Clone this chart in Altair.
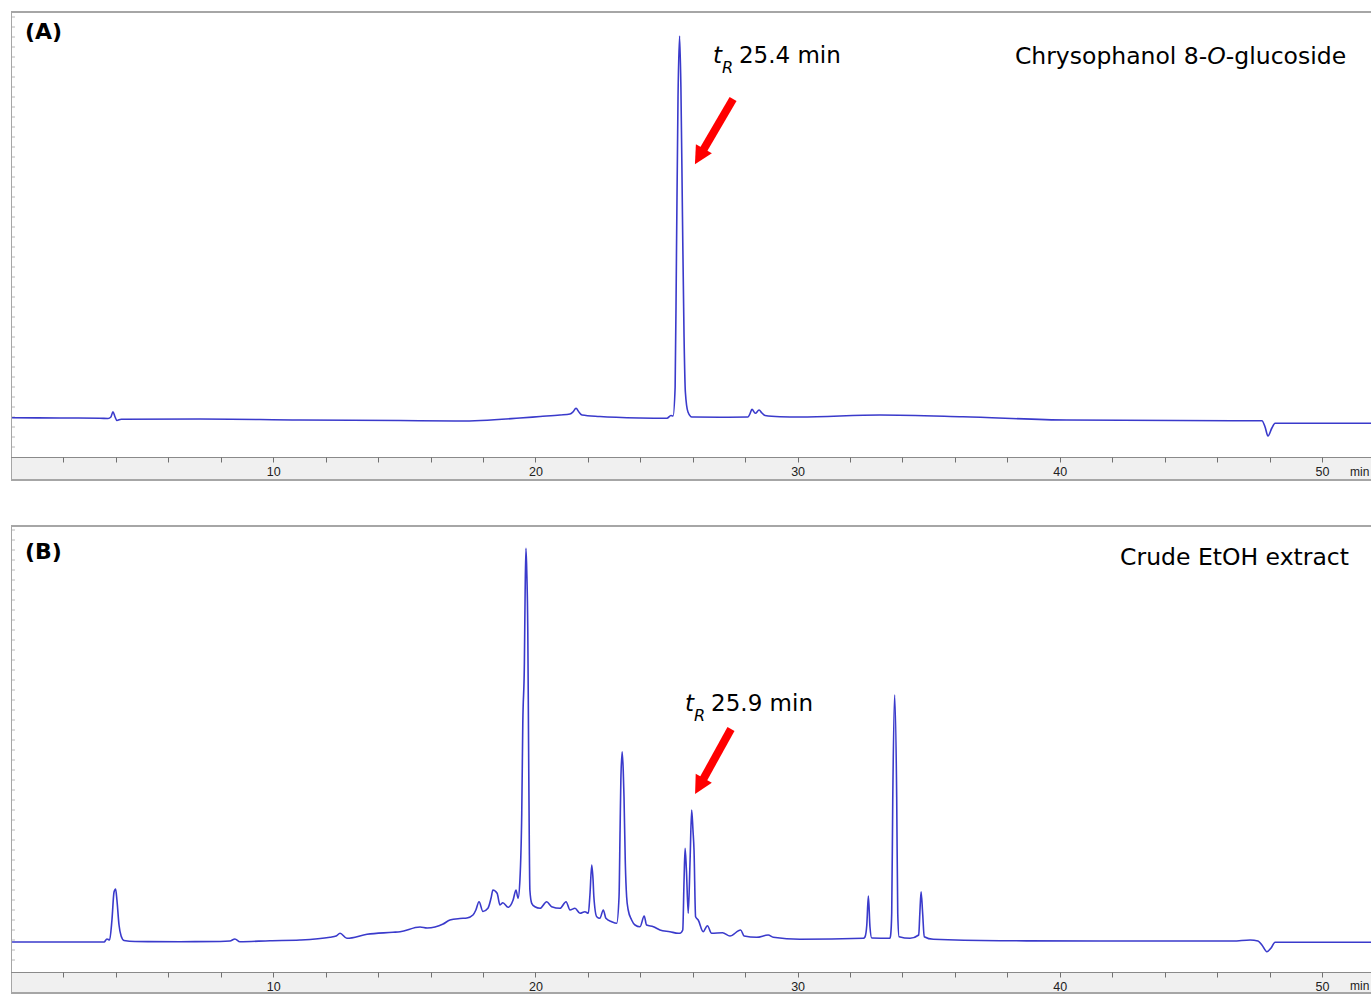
import altair as alt
import pandas as pd

# ---------------- data ----------------
# Panel A: Chrysophanol 8-O-glucoside standard (time in min, signal in arbitrary units)
time_a = [0.04, 1.87, 3.39, 3.70, 3.81, 3.89, 3.97, 4.04, 4.20, 7.21, 11.02, 14.84,
          17.12, 19.41, 20.18, 20.94, 21.32, 21.43, 21.55, 21.66, 21.78, 22.46, 23.99,
          25.02, 25.17, 25.25, 25.33, 25.38, 25.44, 25.50, 25.55, 25.61, 25.67, 25.72,
          25.82, 25.97, 27.04, 28.11, 28.18, 28.26, 28.39, 28.53, 28.64, 28.76, 29.33,
          30.09, 33.14, 36.31, 40.27, 46.61, 47.71, 47.83, 47.94, 48.09, 48.21, 49.16,
          51.87]
signal_a = [39.3, 39.0, 38.8, 38.5, 40.0, 45.3, 40.0, 36.5, 37.8, 38.0, 37.0, 36.5,
            36.0, 39.0, 40.5, 42.0, 43.0, 45.0, 48.7, 45.0, 42.0, 40.5, 39.0,
            38.7, 41.5, 41.0, 70.0, 200.0, 360.0, 421.0, 370.0, 240.0, 120.0, 65.0,
            45.0, 40.0, 39.8, 40.0, 43.0, 47.7, 43.7, 47.0, 44.0, 41.5, 40.3,
            40.0, 42.0, 40.3, 37.0, 36.3, 36.3, 30.0, 21.0, 29.0, 33.7, 33.8,
            33.7]

# Panel B: crude EtOH extract
time_b = [0.04, 1.87, 3.39, 3.55, 3.66, 3.76, 3.85, 3.93, 3.99, 4.04, 4.12, 4.20,
          4.31, 4.73, 6.45, 7.97, 8.35, 8.54, 8.73, 9.88, 11.02, 12.17, 12.40, 12.55,
          12.81, 13.58, 14.57, 14.84, 15.60, 15.87, 16.48, 16.74, 17.12, 17.39, 17.62,
          17.73, 17.85, 18.00, 18.19, 18.31, 18.38, 18.54, 18.65, 18.76, 18.96, 19.15,
          19.26, 19.34, 19.41, 19.48, 19.52, 19.58, 19.61, 19.64, 19.67, 19.71, 19.74,
          19.77, 19.79, 19.86, 19.98, 20.18, 20.43, 20.62, 20.94, 21.17, 21.32, 21.51,
          21.70, 21.89, 22.02, 22.08, 22.15, 22.20, 22.23, 22.34, 22.46, 22.59, 22.69,
          22.91, 23.10, 23.19, 23.23, 23.26, 23.31, 23.35, 23.38, 23.43, 23.48, 23.54,
          23.67, 23.80, 23.99, 24.15, 24.24, 24.50, 24.75, 25.13, 25.45, 25.51, 25.62,
          25.67, 25.71, 25.76, 25.83, 25.90, 25.96, 26.01, 26.05, 26.11, 26.21, 26.40,
          26.56, 26.72, 27.14, 27.42, 27.83, 27.96, 28.44, 28.88, 29.07, 30.09, 32.51,
          32.57, 32.64, 32.70, 32.76, 32.83, 33.52, 33.55, 33.59, 33.63, 33.70, 33.78,
          33.82, 33.87, 34.29, 34.62, 34.66, 34.71, 34.77, 34.83, 35.18, 37.72, 41.53,
          46.61, 47.26, 47.56, 47.71, 47.90, 48.06, 48.21, 50.42, 51.87]
signal_b = [28.0, 28.0, 28.0, 28.0, 31.0, 30.0, 50.0, 78.0, 81.0, 70.0, 45.0, 34.0,
            29.5, 28.5, 28.3, 28.5, 29.0, 31.0, 28.3, 29.3, 30.0, 32.7, 34.0, 36.7,
            31.7, 35.7, 37.7, 38.3, 43.0, 42.0, 46.0, 50.0, 51.5, 52.0, 55.0,
            60.0, 68.3, 58.5, 61.7, 72.0, 80.0, 76.7, 65.0, 67.3, 62.7, 70.0,
            80.0, 71.7, 90.0, 156.7, 246.7, 306.7, 380.0, 421.7, 400.0, 340.0, 226.7,
            120.0, 80.0, 66.7, 63.3, 61.7, 68.3, 63.3, 61.7, 68.3, 60.0, 61.7,
            56.7, 58.3, 56.7, 75.0, 105.0, 90.0, 73.3, 53.3, 51.7, 60.0, 51.7,
            48.3, 46.7, 73.0, 140.0, 190.0, 218.3, 200.0, 173.0, 106.7, 73.3, 60.0,
            50.0, 45.0, 43.3, 54.0, 45.0, 43.3, 40.0, 38.3, 36.7, 36.7, 40.0,
            90.0, 121.7, 100.0, 56.7, 110.0, 160.0, 140.0, 120.0, 53.3, 50.0, 38.3,
            44.3, 36.7, 37.3, 34.0, 40.0, 34.0, 32.7, 35.0, 32.7, 30.7, 31.7,
            33.0, 45.0, 74.0, 43.3, 32.0, 31.7, 35.0, 56.7, 170.0, 275.0, 173.0,
            56.7, 33.3, 31.7, 35.0, 55.0, 78.3, 56.7, 33.3, 30.7, 29.3, 29.0,
            29.0, 30.0, 29.0, 25.0, 18.3, 22.0, 27.7, 27.7, 27.7]

x_tick_values = [2, 4, 6, 8, 10, 12, 14, 16, 18, 20, 22, 24, 26, 28, 30, 32, 34, 36,
                 38, 40, 42, 44, 46, 48, 50]
y_tick_values = [10, 20, 30, 40, 50, 60, 70, 80, 90, 100, 110, 120, 130, 140, 150,
                 160, 170, 180, 190, 200, 210, 220, 230, 240, 250, 260, 270, 280, 290,
                 300, 310, 320, 330, 340, 350, 360, 370, 380, 390, 400, 410, 420, 430, 440]

# ---------------- styling ----------------
W = 1360
X_DOMAIN = [0, 51.87]
FONT = "DejaVu Sans"
AXFONT = "Liberation Sans"
TRACE = "#3a3acb"
RED = "#ff0000"
FRAME = "#a6a6a6"
ARROW_PATH = "M0,-1L0.9,0.75L-0.9,0.75Z"


def make_panel(times, signals, height, ydom, axis_local, panel_label, label_pos,
               title_parts, title_pos, tr_t, tr_s, tr_rest, arrow, unit_s):
    xs = alt.Scale(domain=X_DOMAIN, nice=False, zero=False)
    ys = alt.Scale(domain=ydom, nice=False, zero=False)
    xaxis = alt.Axis(values=x_tick_values,
                     labelExpr="datum.value % 10 === 0 ? datum.label : ''",
                     offset=-(height - axis_local), tickSize=5, tickColor="#707070",
                     tickWidth=1, domain=False,
                     labelFont=AXFONT, labelFontSize=12.5, labelColor="#222222",
                     labelPadding=3, labelFlush=False, labelOverlap=False,
                     grid=False, title=None, zindex=1)

    def X(f):
        return alt.X(f, type="quantitative", scale=xs, axis=xaxis)

    def Y(f):
        return alt.Y(f, type="quantitative", scale=ys, axis=None)

    one = pd.DataFrame({"k": [0]})

    def band(x0, x1, y0, y1, color):
        return alt.Chart(one).mark_rect(fill=color, strokeWidth=0).encode(
            x=alt.value(x0), x2=alt.value(x1), y=alt.value(y0), y2=alt.value(y1))

    strip = band(0, W, axis_local, height, "#f0f0f0")
    top_line = band(0, W, 0, 2, FRAME)
    left_line = band(0, 1, 0, height, FRAME)
    bottom_line = band(0, W, height - 2, height, FRAME)
    axis_line = band(0, W, axis_local, axis_local + 1, "#8a8a8a")

    yt = pd.DataFrame({"v": y_tick_values})
    yticks = alt.Chart(yt).mark_rule(color="#b8b8b8", strokeWidth=1).encode(
        x=alt.value(1), x2=alt.value(4), y=Y("v"))

    df = pd.DataFrame({"t": times, "s": signals})
    trace = alt.Chart(df).mark_line(color=TRACE, strokeWidth=1.6, clip=True,
                                    interpolate="monotone").encode(
        x=X("t"), y=Y("s"))

    layers = [strip, top_line, left_line, bottom_line, axis_line, yticks, trace]

    lab = pd.DataFrame({"t": [label_pos[0]], "s": [label_pos[1]], "txt": [panel_label]})
    layers.append(alt.Chart(lab).mark_text(font=FONT, fontSize=22, fontWeight="bold",
                                           align="left", baseline="alphabetic",
                                           color="black").encode(
        x=X("t"), y=Y("s"), text="txt:N"))

    # right-aligned sample title, pieces laid out from the right edge
    offset = 0.0
    for txt, italic, width in reversed(title_parts):
        d = pd.DataFrame({"t": [title_pos[0]], "s": [title_pos[1]], "txt": [txt]})
        mk = dict(font=FONT, fontSize=23.5, align="right", baseline="alphabetic",
                  color="black", dx=-offset)
        if italic:
            mk["fontStyle"] = "italic"
        layers.append(alt.Chart(d).mark_text(**mk).encode(x=X("t"), y=Y("s"), text="txt:N"))
        offset += width

    # retention time annotation
    d = pd.DataFrame({"t": [tr_t], "s": [tr_s], "a": ["t"], "b": ["R"], "c": [tr_rest]})
    layers.append(alt.Chart(d).mark_text(font=FONT, fontSize=23, fontStyle="italic",
                                         align="left", baseline="alphabetic",
                                         color="black").encode(
        x=X("t"), y=Y("s"), text="a:N"))
    layers.append(alt.Chart(d).mark_text(font=FONT, fontSize=16, fontStyle="italic",
                                         align="left", baseline="alphabetic",
                                         color="black", dx=9, dy=10).encode(
        x=X("t"), y=Y("s"), text="b:N"))
    layers.append(alt.Chart(d).mark_text(font=FONT, fontSize=23, align="left",
                                         baseline="alphabetic", color="black",
                                         dx=26).encode(
        x=X("t"), y=Y("s"), text="c:N"))

    # red arrow
    sh = pd.DataFrame({"t0": [arrow[0]], "s0": [arrow[1]], "t1": [arrow[2]], "s1": [arrow[3]]})
    layers.append(alt.Chart(sh).mark_rule(color=RED, strokeWidth=8, strokeCap="butt").encode(
        x=X("t0"), y=Y("s0"), x2="t1:Q", y2="s1:Q"))
    hd = pd.DataFrame({"t": [arrow[2]], "s": [arrow[3]]})
    layers.append(alt.Chart(hd).mark_point(shape=ARROW_PATH, filled=True, color=RED,
                                           opacity=1, size=420, angle=arrow[4],
                                           strokeWidth=0).encode(
        x=X("t"), y=Y("s")))

    # axis unit
    u = pd.DataFrame({"t": [51.07], "s": [unit_s], "txt": ["min"]})
    layers.append(alt.Chart(u).mark_text(font=AXFONT, fontSize=12, align="left",
                                         baseline="middle", color="#222222",
                                         clip=True).encode(
        x=X("t"), y=Y("s"), text="txt:N"))

    return alt.layer(*layers).properties(width=W, height=height)


panel_a = make_panel(
    time_a, signal_a, 470, [-24, 446], 446, "(A)", (0.53, 418.5),
    [("Chrysophanol 8-", False, 192.4), ("O", True, 18.5), ("-glucoside", False, 120.3)],
    (50.92, 393), 26.77, 394, "25.4 min",
    (27.54, 358, 26.28, 301.6, 210), -15)

panel_b = make_panel(
    time_b, signal_b, 469, [-24, 445], 447, "(B)", (0.53, 411.5),
    [("Crude EtOH extract", False, 228.9)],
    (51.03, 405), 25.71, 259, "25.9 min",
    (27.46, 241, 26.28, 185, 209), -16)

chart = alt.vconcat(panel_a, panel_b, spacing=44).properties(
    padding={"left": 11, "top": 11, "right": 0, "bottom": 0},
    background="white",
).configure_view(strokeWidth=0)

chart.save("out.html", embed_options={"renderer": "svg", "actions": False})
